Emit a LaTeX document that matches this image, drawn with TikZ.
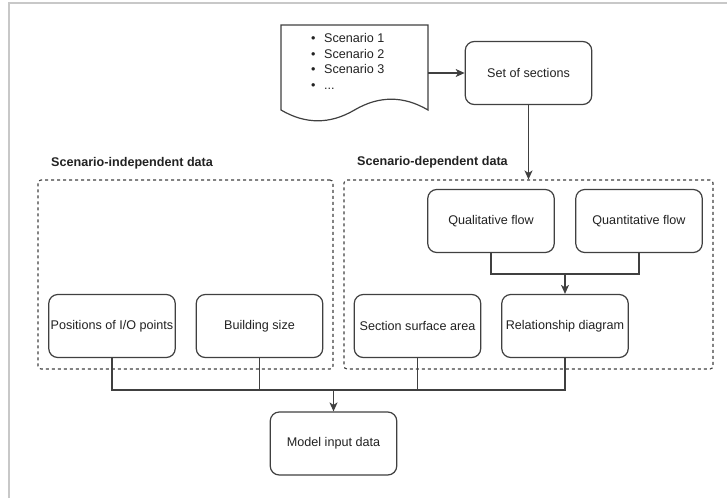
\documentclass[tikz,border=0pt]{standalone}
\usepackage{fontspec}
\setmainfont{Liberation Sans}
\usetikzlibrary{arrows.meta}
\definecolor{linec}{HTML}{404040}
\definecolor{textc}{HTML}{222222}
\definecolor{framec}{HTML}{C8C8C8}
\begin{document}
\begin{tikzpicture}[x=1pt,y=-1pt,
  font=\fontsize{12.6}{15}\selectfont, text=textc,
  box/.style={draw=linec, line width=1.2pt, rounded corners=9pt, fill=white,
    minimum width=126.5pt, minimum height=63pt, inner sep=0pt, align=center},
  grp/.style={draw=linec, line width=1.1pt, dash pattern=on 3pt off 3pt,
    rounded corners=3pt, inner sep=0pt},
  conn/.style={draw=linec, line width=1.2pt},
  arr/.style={conn, -{Stealth[length=9pt,width=8pt,inset=2.5pt]}},
  glabel/.style={font=\bfseries\fontsize{12.6}{15}\selectfont, anchor=west, inner sep=0pt},
  litem/.style={anchor=base west, inner sep=0pt}]
\useasboundingbox (0,0) rectangle (727,498);
% outer frame
\draw[framec, line width=2pt] (9,498) -- (9,3) -- (727,3);

% document shape
\node[minimum width=147pt, minimum height=96pt, inner sep=0pt] (doc) at (354.5,73) {};
\draw[linec, line width=1.2pt, fill=white]
  (281,25) -- (428,25) -- (428,110)
  .. controls (403.5,95.6) and (379,95.6) .. (354.5,110)
  .. controls (330,124.4) and (305.5,124.4) .. (281,110) -- cycle;
\node[litem] (l1) at (311,42.5) {\makebox[13pt][l]{•}Scenario 1};
\node[litem] (l2) at (311,58.2) {\makebox[13pt][l]{•}Scenario 2};
\node[litem] (l3) at (311,73.9) {\makebox[13pt][l]{•}Scenario 3};
\node[litem] (l4) at (311,89.6) {\makebox[13pt][l]{•}...};

\node[box] (sets) at (528.5,73) {Set of sections};

% groups
\node[grp, minimum width=295pt, minimum height=189pt] (grpL) at (185.5,274.5) {};
\node[grp, minimum width=369pt, minimum height=189pt] (grpR) at (528.5,274.5) {};
\node[glabel] (labL) at (51,163) {Scenario-independent data};
\node[glabel] (labR) at (357,162) {Scenario-dependent data};

\node[box] (qual) at (491,221) {Qualitative flow};
\node[box] (quant) at (639,221) {Quantitative flow};
\node[box] (sect) at (417.5,326) {Section surface area};
\node[box] (rel) at (565,326) {Relationship diagram};
\node[box] (pos) at (112,326) {Positions of I/O points};
\node[box] (bld) at (259.5,326) {Building size};
\node[box] (model) at (333.5,443.5) {Model input data};

\coordinate (qj) at (565,274);
\coordinate (bus) at (333.5,390);

% connectors
\draw[arr] (doc.east) -- (sets.west);
\draw[arr] (sets.south) -- (grpR.north);
\draw[conn] (qual.south) |- (qj) -| (quant.south);
\draw[arr] (qj) -- (rel.north);
\draw[conn] (pos.south) |- (bus) -| (rel.south);
\draw[conn] (bld.south) -- (bld.south |- bus);
\draw[conn] (sect.south) -- (sect.south |- bus);
\draw[arr] (bus) -- (model.north);
\end{tikzpicture}
\end{document}
